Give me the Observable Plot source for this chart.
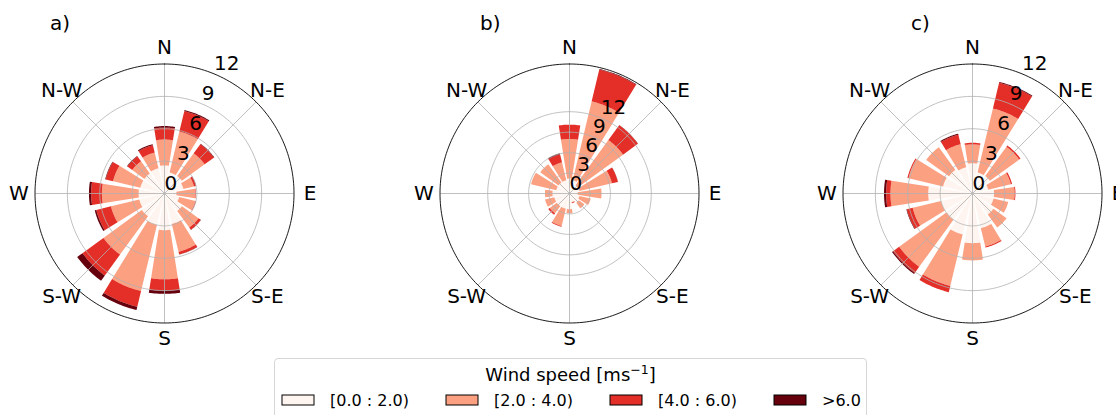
<!DOCTYPE html>
<html>
<head>
<meta charset="utf-8">
<script src="https://cdn.jsdelivr.net/npm/d3@7"></script>
<script src="https://cdn.jsdelivr.net/npm/@observablehq/plot@0.6"></script>
<style>
  html, body { margin: 0; padding: 0; background: #fff; overflow: hidden; width: 1116px; height: 415px; }
  body { position: relative; font-family: "DejaVu Sans", sans-serif; color: #000; }
  .panel { position: absolute; top: 0; width: 330px; height: 345px; }
  .panel svg { overflow: visible; max-width: none !important; width: 330px !important; height: 345px !important; }
  .tag { position: absolute; top: 13px; font-size: 20px; line-height: 20px; white-space: nowrap; }
  #legendBox { position: absolute; left: 274px; top: 358px; width: 593px; height: 80px; box-sizing: border-box;
               border: 1px solid #d6d6d6; border-radius: 4px; background: #fff; }
  #legendTitle { position: absolute; left: 274px; width: 593px; top: 365px; text-align: center; font-size: 18px; line-height: 20px; }
  #legendTitle sup { font-size: 12.5px; vertical-align: 7px; line-height: 0; }
  #legendHost { position: absolute; left: 282px; top: 390px; }
  #legendHost div { min-height: 20px !important; margin: 0 !important; padding: 0 !important; flex-wrap: nowrap !important; }
  #legendHost span { width: 164px !important; margin: 0 !important; flex: none !important; font-size: 16px !important; font-family: "DejaVu Sans", sans-serif !important; white-space: nowrap; }
  #legendHost svg { margin-right: 16px !important; overflow: visible !important; }
</style>
</head>
<body>
<div id="legendBox"></div>
<div id="legendTitle">Wind speed [ms<sup>−1</sup>]</div>
<div id="legendHost"></div>
<script>
// ---------- data ----------
const directions = ["N","NNE","NE","ENE","E","ESE","SE","SSE","S","SSW","SW","WSW","W","WNW","NW","NNW"];
const speedBins = ["[0.0 : 2.0)", "[2.0 : 4.0)", "[4.0 : 6.0)", ">6.0"];
const binColors = ["#fff5f0", "#fca082", "#e32f27", "#67000d"];
const compassLabels = ["N", "N-E", "E", "S-E", "S", "S-W", "W", "N-W"];
const radialTicks = [0, 3, 6, 9, 12];
const panelTags = ["a)", "b)", "c)"];
const panelRmax = [12, 19, 12];

// frequency (%) per direction (N, NNE, ... NNW) for each speed bin
const a_0_2 = [2.6, 2.0, 2.0, 1.8, 1.1, 1.4, 2.0, 2.9, 3.4, 3.0, 2.6, 2.4, 2.4, 2.3, 2.3, 2.4];
const a_2_4 = [2.4, 3.9, 2.6, 1.0, 1.75, 1.55, 1.9, 2.65, 4.55, 6.3, 4.4, 2.7, 3.4, 2.6, 1.4, 1.5];
const a_4_6 = [1.1, 1.95, 1.05, 0.2, 0.05, 0.05, 0.25, 0.25, 1.05, 1.5, 2.4, 1.4, 1.0, 0.7, 0.55, 0.7];
const a_gt6 = [0.15, 0.1, 0.05, 0.02, 0, 0, 0.02, 0.02, 0.3, 0.3, 0.6, 0.15, 0.2, 0.05, 0.05, 0.1];

const b_0_2 = [2.2, 2.0, 1.5, 1.5, 1.2, 1.5, 1.7, 1.3, 2.3, 2.3, 2.3, 2.3, 2.5, 2.0, 2.0, 2.0];
const b_2_4 = [5.8, 11.9, 8.2, 4.9, 3.5, 1.7, 1.0, 0.05, 0.6, 2.6, 1.3, 1.4, 1.1, 3.8, 3.3, 2.7];
const b_4_6 = [2.1, 4.8, 2.7, 0.9, 0, 0, 0, 0.12, 0, 0.12, 0.25, 0, 0, 0, 0, 1.2];
const b_gt6 = [0, 0.1, 0.03, 0.02, 0, 0, 0, 0, 0, 0, 0, 0, 0, 0, 0, 0.15];

const c_0_2 = [2.8, 2.0, 2.0, 1.5, 2.0, 2.0, 2.4, 3.3, 4.6, 3.9, 3.0, 3.0, 4.1, 2.8, 2.7, 2.5];
const c_2_4 = [1.75, 6.1, 3.35, 2.15, 1.9, 1.4, 1.5, 1.75, 1.6, 4.9, 5.4, 2.7, 3.5, 3.3, 2.6, 2.2];
const c_4_6 = [0.15, 2.45, 0.15, 0.12, 0.08, 0, 0, 0.1, 0, 0.6, 0.7, 0.55, 0.4, 0.1, 0, 0.9];
const c_gt6 = [0, 0.08, 0, 0, 0, 0, 0, 0, 0, 0, 0.12, 0.05, 0.2, 0, 0, 0.1];

const panelBins = [
  [a_0_2, a_2_4, a_4_6, a_gt6],
  [b_0_2, b_2_4, b_4_6, b_gt6],
  [c_0_2, c_2_4, c_4_6, c_gt6]
];

// ---------- layout ----------
const centersX = [164, 569, 972];
const R = 129.5;            // pixel radius of the polar area
const W = 330, H = 345, OX = 165, OY = 193;
const opening = 0.8;        // fraction of sector covered by a bar
const DEG = Math.PI / 180;

function buildWedges(bins) {
  const rows = [];
  const step = 2 * Math.PI / directions.length;
  const half = opening * step / 2;
  const n = 16;
  directions.forEach((d, i) => {
    const th = i * step;
    let r0 = 0;
    bins.forEach((vals, b) => {
      const v = vals[i];
      if (!(v > 0)) return;
      const r1 = r0 + v;
      const id = d + "-" + b;
      for (let k = 0; k <= n; k++) {
        const t = th - half + 2 * half * k / n;
        rows.push({id, bin: speedBins[b], x: r1 * Math.sin(t), y: r1 * Math.cos(t)});
      }
      for (let k = n; k >= 0; k--) {
        const t = th - half + 2 * half * k / n;
        rows.push({id, bin: speedBins[b], x: r0 * Math.sin(t), y: r0 * Math.cos(t)});
      }
      r0 = r1;
    });
  });
  return rows;
}

function circlePts(radii) {
  const rows = [];
  radii.forEach(r => {
    for (let k = 0; k <= 240; k++) {
      const t = k / 240 * 2 * Math.PI;
      rows.push({r, x: r * Math.sin(t), y: r * Math.cos(t)});
    }
  });
  return rows;
}

panelBins.forEach((bins, p) => {
  const rmax = panelRmax[p];
  const k = rmax / R;
  const wedges = buildWedges(bins);
  const rings = circlePts(radialTicks.filter(t => t > 0 && t < rmax - 1e-9));
  const outer = circlePts([rmax]);
  const spokes = compassLabels.map((lab, i) => ({
    x0: 0, y0: 0, x: rmax * Math.sin(i * 45 * DEG), y: rmax * Math.cos(i * 45 * DEG)
  }));
  const labR = rmax * (R + 16) / R;
  const compass = compassLabels.map((lab, i) => ({
    text: lab, x: labR * Math.sin(i * 45 * DEG), y: labR * Math.cos(i * 45 * DEG)
  }));
  const tickLabels = radialTicks.map(t => ({
    text: String(t), x: t * Math.sin(22.5 * DEG), y: t * Math.cos(22.5 * DEG)
  }));

  const chart = Plot.plot({
    width: W, height: H, margin: 0,
    x: {domain: [-OX * k, (W - OX) * k], axis: null},
    y: {domain: [-(H - OY) * k, OY * k], axis: null},
    color: {domain: speedBins, range: binColors},
    style: {fontFamily: "DejaVu Sans", background: "transparent", overflow: "visible", color: "black", maxWidth: "none"},
    marks: [
      Plot.line(wedges, {x: "x", y: "y", z: "id", fill: "bin", stroke: "none", curve: "linear"}),
      Plot.line(rings, {x: "x", y: "y", z: "r", stroke: "#b0b0b0", strokeWidth: 0.8, fill: "none", curve: "linear"}),
      Plot.link(spokes, {x1: "x0", y1: "y0", x2: "x", y2: "y", stroke: "#b0b0b0", strokeWidth: 0.8}),
      Plot.line(outer, {x: "x", y: "y", z: "r", stroke: "black", strokeWidth: 0.9, fill: "none", curve: "linear"}),
      Plot.text(tickLabels, {x: "x", y: "y", text: "text", textAnchor: "start", lineAnchor: "middle", dy: -10, fontSize: 20, fill: "black"}),
      Plot.text(compass, {x: "x", y: "y", text: "text", textAnchor: "middle", lineAnchor: "middle", fontSize: 20, fill: "black"})
    ]
  });
  const holder = document.createElement("div");
  holder.className = "panel";
  holder.style.left = (centersX[p] - OX) + "px";
  holder.appendChild(chart);
  document.body.appendChild(holder);
});

// panel tags
const tagLeft = [50, 480, 911];
panelTags.forEach((t, i) => {
  const d = document.createElement("div");
  d.className = "tag";
  d.style.left = tagLeft[i] + "px";
  d.textContent = t;
  document.body.appendChild(d);
});

// legend
const leg = Plot.legend({
  color: {type: "ordinal", domain: speedBins, range: binColors},
  legend: "swatches",
  swatchWidth: 32,
  swatchHeight: 10,
  style: {fontFamily: "DejaVu Sans", fontSize: "16px", color: "black"}
});
leg.querySelectorAll("svg rect").forEach(r => {
  r.setAttribute("stroke", "#000");
  r.setAttribute("stroke-width", "1");
});
document.getElementById("legendHost").appendChild(leg);
</script>
</body>
</html>
